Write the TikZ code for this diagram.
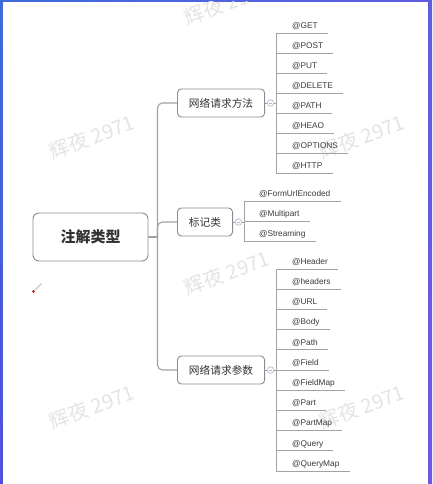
\documentclass[tikz,border=0pt]{standalone}
\usepackage{fontspec}
\setmainfont{Liberation Sans}
\newfontfamily\cjk{Noto Sans CJK SC}
\usetikzlibrary{calc,shadings}

\definecolor{frameTL}{HTML}{3E6BDA}
\definecolor{frameTR}{HTML}{5F5CE2}
\definecolor{frameBL}{HTML}{5050DC}
\definecolor{frameBR}{HTML}{7256E6}
\definecolor{boxgray}{HTML}{8C8C8C}
\definecolor{linegray}{HTML}{A2A2A2}
\definecolor{textdark}{HTML}{333333}
\definecolor{leaftext}{HTML}{3A3A3A}
\definecolor{dotc}{HTML}{B4B8DE}
\definecolor{wmgray}{HTML}{E4E4E4}

\begin{document}
\begin{tikzpicture}[x=1pt,y=-1pt,
  rootbox/.style={draw=boxgray, line width=0.9pt, rounded corners=6pt, fill=white,
    minimum width=115pt, minimum height=48pt, inner sep=0pt,
    font=\cjk\bfseries\fontsize{15}{18}\selectfont, text=textdark},
  branchbox/.style={draw=boxgray, line width=0.9pt, rounded corners=4pt, fill=white,
    minimum height=28pt, inner xsep=11.5pt, inner ysep=0pt, anchor=west,
    font=\cjk\fontsize{10.7}{13}\selectfont, text=textdark},
  leafnode/.style={anchor=south west, inner xsep=0pt, inner ysep=4.5pt,
    text depth=0pt, font=\fontsize{8.3}{10}\selectfont, text=leaftext},
  trunk/.style={draw=linegray, line width=1.1pt, rounded corners=5pt},
  leafline/.style={draw=linegray, line width=0.9pt},
  dotnode/.style={circle, draw=dotc, line width=0.7pt, fill=white,
    minimum size=6.5pt, inner sep=0pt},
  wm/.style={font=\cjk\fontsize{20}{20}\selectfont, text=wmgray, rotate=20}
]
\useasboundingbox (0,0) rectangle (432,484);

% window frame and canvas
\shade[upper left=frameTL, upper right=frameTR, lower left=frameBL, lower right=frameBR]
  (0,0) rectangle (432,484);
\fill[white] (3,2) rectangle (428,484);

% watermark
\begin{scope}
  \clip (3,2) rectangle (428,484);
  \node[wm] (wm1) at (227,3)   {辉夜 2971};
  \node[wm] (wm2) at (92,137)  {辉夜 2971};
  \node[wm] (wm3) at (362,137) {辉夜 2971};
  \node[wm] (wm4) at (227,273) {辉夜 2971};
  \node[wm] (wm5) at (92,407)  {辉夜 2971};
  \node[wm] (wm6) at (362,407) {辉夜 2971};
\end{scope}

% pen cursor
\draw[line width=1.6pt, gray!35, line cap=round] (35,290) -- (41,284);
\fill[red!75!black] (33.5,291.5) circle (1.4);

% root and branches
\node[rootbox] (root) at (90.5,237) {注解类型};
\node[branchbox] (b1) at (177,103) {网络请求方法};
\node[branchbox] (b2) at (177,222) {标记类};
\node[branchbox] (b3) at (177,370) {网络请求参数};

\draw[linegray, line width=1.1pt] (root.east) -- ++(9,0) coordinate (tk);
\draw[trunk] (tk) |- (b1.west);
\draw[trunk] (tk) |- (b2.west);
\draw[trunk] (tk) |- (b3.west);

% spines beside each branch
\coordinate (s1) at ($(b1.east)+(11,0)$);
\coordinate (s2) at ($(b2.east)+(11,0)$);
\coordinate (s3) at ($(b3.east)+(11,0)$);

% leaves: request methods
\foreach \t [count=\i] in {@GET,@POST,@PUT,@DELETE,@PATH,@HEAO,@OPTIONS,@HTTP}{
  \node[leafnode] (l1-\i) at (292,{33+20*(\i-1)}) {\t};
  \draw[leafline] (s1) |- ([xshift=10pt]l1-\i.south east);
}
% leaves: markers
\foreach \t [count=\i] in {@FormUrlEncoded,@Multipart,@Streaming}{
  \node[leafnode] (l2-\i) at (259,{201+20*(\i-1)}) {\t};
  \draw[leafline] (s2) |- ([xshift=10pt]l2-\i.south east);
}
% leaves: request parameters
\foreach \t [count=\i] in {@Header,@headers,@URL,@Body,@Path,@Field,@FieldMap,@Part,@PartMap,@Query,@QueryMap}{
  \node[leafnode] (l3-\i) at (292,{269+20.2*(\i-1)}) {\t};
  \draw[leafline] (s3) |- ([xshift=10pt]l3-\i.south east);
}

% collapse markers
\foreach \b/\s in {b1/s1,b2/s2,b3/s3}{
  \draw[leafline] (\b.east) -- (\s);
  \node[dotnode] (d\b) at ($(\b.east)!0.5!(\s)$) {};
  \draw[dotc, line width=0.6pt] ([xshift=-1.6pt]d\b.center) -- ([xshift=1.6pt]d\b.center);
}
\end{tikzpicture}
\end{document}
